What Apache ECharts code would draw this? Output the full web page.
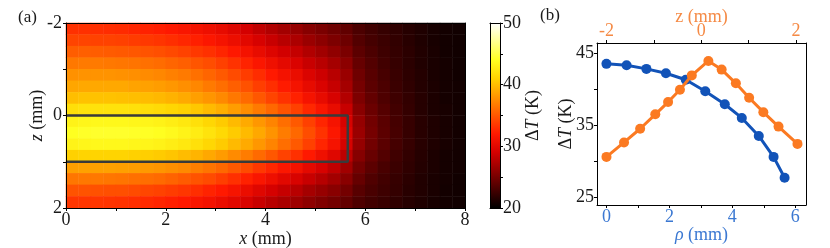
<!DOCTYPE html>
<html>
<head>
<meta charset="utf-8">
<script src="https://cdn.jsdelivr.net/npm/echarts@6/dist/echarts.min.js"></script>
<style>
html, body { margin: 0; padding: 0; background: #fff; }
#chart { width: 830px; height: 248px; }
</style>
</head>
<body>
<div id="chart"></div>
<script>
// (a) map cells: x centres (mm), z centres (mm), ΔT in K
const xCells = ['0.125','0.375','0.625','0.875','1.125','1.375','1.625','1.875','2.125','2.375','2.625','2.875',
  '3.125','3.375','3.625','3.875','4.125','4.375','4.625','4.875','5.125','5.375','5.625','5.875',
  '6.125','6.375','6.625','6.875','7.125','7.375','7.625','7.875']
const zCells = ['-1.875','-1.625','-1.375','-1.125','-0.875','-0.625','-0.375','-0.125',
  '0.125','0.375','0.625','0.875','1.125','1.375','1.625','1.875']
const heat = [
  [33.1,33.1,33.0,32.9,32.8,32.6,32.4,32.2,31.9,31.6,31.2,30.8,30.3,29.7,29.0,28.2,27.5,26.9,26.4,25.7,25.2,24.7,24.1,23.2,22.7,22.3,22.0,21.6,21.3,21.0,20.8,20.7],
  [34.1,34.1,34.0,34.0,33.9,33.7,33.5,33.3,33.0,32.7,32.3,31.8,31.3,30.7,30.0,29.2,28.5,27.8,27.3,26.5,25.9,25.3,24.6,23.5,22.9,22.5,22.1,21.7,21.3,21.0,20.8,20.7],
  [35.3,35.4,35.3,35.2,35.1,35.0,34.8,34.6,34.3,34.0,33.5,33.1,32.6,31.9,31.2,30.4,29.6,28.9,28.3,27.5,26.8,26.1,25.2,23.9,23.2,22.6,22.2,21.8,21.4,21.1,20.8,20.7],
  [36.6,36.7,36.7,36.6,36.5,36.4,36.2,36.0,35.7,35.4,34.9,34.5,33.9,33.2,32.5,31.7,30.9,30.1,29.4,28.5,27.8,27.0,25.9,24.3,23.5,22.8,22.3,21.8,21.4,21.1,20.9,20.7],
  [37.8,37.9,37.9,37.9,37.8,37.7,37.5,37.3,37.0,36.7,36.2,35.7,35.1,34.4,33.7,32.9,32.0,31.2,30.5,29.5,28.7,27.8,26.5,24.7,23.7,23.0,22.4,21.9,21.5,21.1,20.9,20.7],
  [38.8,38.9,38.9,38.9,38.9,38.7,38.6,38.4,38.1,37.7,37.3,36.7,36.1,35.4,34.7,33.8,33.0,32.1,31.3,30.3,29.4,28.4,27.0,25.0,23.9,23.2,22.5,22.0,21.5,21.2,20.9,20.8],
  [40.0,40.2,40.2,40.2,40.1,40.0,39.9,39.7,39.4,39.0,38.5,38.0,37.4,36.6,35.9,35.0,34.1,33.2,32.4,31.3,30.3,29.2,27.6,25.3,24.2,23.3,22.6,22.1,21.6,21.2,20.9,20.8],
  [41.8,42.0,42.0,42.0,42.0,41.9,41.7,41.5,41.2,40.9,40.4,39.8,39.2,38.4,37.6,36.7,35.8,34.8,33.9,32.7,31.6,30.4,28.5,25.8,24.5,23.6,22.8,22.2,21.6,21.2,21.0,20.8],
  [43.2,43.4,43.5,43.5,43.5,43.4,43.3,43.1,42.8,42.4,41.9,41.3,40.6,39.8,39.0,38.1,37.2,36.1,35.1,33.9,32.6,31.3,29.2,26.3,24.8,23.8,22.9,22.3,21.7,21.3,21.0,20.8],
  [44.0,44.2,44.3,44.3,44.3,44.2,44.1,43.9,43.6,43.2,42.7,42.1,41.4,40.6,39.8,38.9,37.9,36.8,35.8,34.5,33.2,31.8,29.6,26.5,25.0,23.9,23.0,22.3,21.7,21.3,21.0,20.8],
  [43.2,43.4,43.5,43.5,43.5,43.4,43.3,43.1,42.8,42.4,41.9,41.3,40.6,39.8,39.0,38.1,37.2,36.1,35.1,33.9,32.6,31.3,29.2,26.3,24.8,23.8,22.9,22.3,21.7,21.3,21.0,20.8],
  [40.9,41.1,41.1,41.1,41.1,40.9,40.8,40.6,40.3,39.9,39.5,38.9,38.3,37.5,36.8,35.9,35.0,34.0,33.1,32.0,30.9,29.8,28.0,25.6,24.4,23.5,22.7,22.1,21.6,21.2,20.9,20.8],
  [38.5,38.6,38.6,38.6,38.5,38.4,38.2,38.0,37.7,37.4,36.9,36.4,35.8,35.1,34.4,33.5,32.7,31.8,31.1,30.1,29.2,28.2,26.8,24.9,23.9,23.1,22.5,22.0,21.5,21.2,20.9,20.8],
  [36.5,36.6,36.6,36.5,36.4,36.2,36.1,35.9,35.6,35.2,34.8,34.4,33.8,33.1,32.4,31.6,30.8,30.0,29.3,28.5,27.7,26.9,25.8,24.3,23.4,22.8,22.3,21.8,21.4,21.1,20.9,20.7],
  [34.8,34.8,34.7,34.6,34.6,34.4,34.2,34.0,33.7,33.4,33.0,32.5,32.0,31.4,30.6,29.8,29.1,28.4,27.8,27.0,26.4,25.8,24.9,23.7,23.1,22.6,22.2,21.7,21.4,21.1,20.8,20.7],
  [33.4,33.4,33.4,33.3,33.2,33.0,32.8,32.6,32.3,32.0,31.6,31.2,30.6,30.0,29.3,28.5,27.8,27.2,26.7,26.0,25.4,24.9,24.2,23.3,22.8,22.4,22.0,21.6,21.3,21.0,20.8,20.7]
]
// heater outline (mm)
const boxX = [0, 5.65, 5.65, 0]
const boxZ = [0, 0, 1, 1]

// (b) profiles
const rho = [0, 0.64, 1.27, 1.89, 2.52, 3.14, 3.76, 4.30, 4.84, 5.31, 5.66]
const rhoT = [43.5, 43.3, 42.8, 42.2, 41.3, 39.7, 37.9, 36.0, 33.5, 30.6, 27.7]
const zPos = [-2.0, -1.63, -1.29, -0.97, -0.70, -0.45, -0.20, 0.15, 0.43, 0.73, 1.01, 1.31, 1.63, 2.03]
const zT = [30.6, 32.6, 34.5, 36.5, 38.2, 39.9, 41.9, 43.9, 42.7, 40.8, 38.8, 36.8, 34.8, 32.4]

// tick values
const xTicksA = [0, 1, 2, 3, 4, 5, 6, 7, 8]
const xLabelsA = [0, 2, 4, 6, 8]
const zTicksA = [-2, -1, 0, 1, 2]
const zLabelsA = [-2, 0, 2]
const cbTicks = [20, 25, 30, 35, 40, 45, 50]
const cbLabels = [20, 30, 40, 50]
const rhoTicks = [0, 1, 2, 3, 4, 5, 6]
const rhoLabels = [0, 2, 4, 6]
const zTicksB = [-2, -1, 0, 1, 2]
const zLabelsB = [-2, 0, 2]
const tTicksB = [25, 30, 35, 40, 45]
const tLabelsB = [25, 35, 45]

const hot = ['#000000', '#470000', '#8e0000', '#d40000', '#ff1900', '#ff5700',
  '#ff9500', '#ffd300', '#ffff21', '#ffff90', '#ffffff']

const FONT = 'Liberation Serif'
const FS = 18
const INK = '#1a1a1a'
const BLUE = '#1253b8'
const ORANGE = '#fb7a22'
const BLUE_TXT = '#3b78d2'
const ORANGE_TXT = '#f58a45'

const chart = echarts.init(document.getElementById('chart'), null, { renderer: 'canvas' })

const heatData = []
heat.forEach((row, i) => row.forEach((v, j) => heatData.push([j, i, v])))

function lbl(color, values, margin) {
  return { customValues: values, color: color, fontFamily: FONT, fontSize: FS, margin: margin }
}
function ticks(values) {
  return { show: true, customValues: values, length: 3, inside: false, lineStyle: { color: '#000', width: 1 } }
}
function nameStyle(color) {
  return {
    color: color, fontFamily: FONT, fontSize: FS,
    rich: { i: { color: color, fontFamily: FONT, fontSize: FS, fontStyle: 'italic' } }
  }
}
const frameLine = { show: true, onZero: false, lineStyle: { color: '#000', width: 1 } }
const frameOnly = {
  axisLine: frameLine, axisTick: { show: false }, axisLabel: { show: false }, splitLine: { show: false }, z: 10
}
// fixed plot boxes, no auto shrink in v6
const box = (l, t, w, h) => ({ left: l, top: t, width: w, height: h, outerBoundsMode: 'none', containLabel: false })
// axis title placed by nameGap only
const title = (text, gap, color, rotate) => ({
  name: text, nameLocation: 'middle', nameGap: gap, nameRotate: rotate,
  nameMoveOverlap: false, nameTextStyle: nameStyle(color)
})

chart.setOption({
  animation: false,
  backgroundColor: '#fff',
  graphic: [
    { type: 'text', left: 18, top: 9, style: { text: '(a)', font: '17px ' + FONT, fill: INK } },
    { type: 'text', left: 540, top: 7, style: { text: '(b)', font: '17px ' + FONT, fill: INK } }
  ],
  visualMap: {
    show: false, type: 'continuous', min: 20, max: 50, seriesIndex: 0,
    inRange: { color: hot }
  },
  grid: [
    box(66, 23, 399, 185),
    box(66, 23, 399, 185),
    Object.assign(box(490, 23, 10, 185), {
      show: true, borderWidth: 0,
      backgroundColor: {
        type: 'linear', x: 0, y: 1, x2: 0, y2: 0,
        colorStops: hot.map((c, i) => ({ offset: i / (hot.length - 1), color: c }))
      }
    }),
    box(597, 43, 209, 162)
  ],
  xAxis: [
    { type: 'category', gridIndex: 0, data: xCells, show: false },
    Object.assign({
      type: 'value', gridIndex: 1, min: 0, max: 8, position: 'bottom', z: 10,
      axisLine: frameLine, axisTick: ticks(xTicksA), axisLabel: lbl(INK, xLabelsA, 3),
      splitLine: { show: false }
    }, title('{i|x} (mm)', 22, INK)),
    Object.assign({ type: 'value', gridIndex: 1, min: 0, max: 8, position: 'top' }, frameOnly),
    Object.assign({ type: 'value', gridIndex: 2, min: 0, max: 1, position: 'bottom' }, frameOnly),
    Object.assign({ type: 'value', gridIndex: 2, min: 0, max: 1, position: 'top' }, frameOnly),
    Object.assign({
      type: 'value', gridIndex: 3, min: -0.3, max: 6.34, position: 'bottom', z: 10,
      axisLine: frameLine, axisTick: ticks(rhoTicks), axisLabel: lbl(BLUE_TXT, rhoLabels, 3),
      splitLine: { show: false }
    }, title('{i|ρ} (mm)', 21, BLUE_TXT)),
    Object.assign({
      type: 'value', gridIndex: 3, min: -2.2, max: 2.21, position: 'top', z: 10,
      axisLine: frameLine, axisTick: ticks(zTicksB), axisLabel: lbl(ORANGE_TXT, zLabelsB, 3),
      splitLine: { show: false }
    }, title('z (mm)', 17, ORANGE_TXT))
  ],
  yAxis: [
    { type: 'category', gridIndex: 0, data: zCells, inverse: true, show: false },
    Object.assign({
      type: 'value', gridIndex: 1, min: -2, max: 2, inverse: true, position: 'left', z: 10,
      axisLine: frameLine, axisTick: ticks(zTicksA), axisLabel: lbl(INK, zLabelsA, 4),
      splitLine: { show: false }
    }, title('{i|z} (mm)', 20, INK, 90)),
    Object.assign({ type: 'value', gridIndex: 1, min: -2, max: 2, position: 'right' }, frameOnly),
    Object.assign({
      type: 'value', gridIndex: 2, min: 20, max: 50, position: 'right', z: 10,
      axisLine: frameLine, axisTick: ticks(cbTicks), axisLabel: lbl(INK, cbLabels, 3),
      splitLine: { show: false }
    }, title('Δ{i|T} (K)', 24, INK, 90)),
    Object.assign({ type: 'value', gridIndex: 2, min: 20, max: 50, position: 'left' }, frameOnly),
    Object.assign({
      type: 'value', gridIndex: 3, min: 23.93, max: 46.39, position: 'left', z: 10,
      axisLine: frameLine, axisTick: ticks(tTicksB), axisLabel: lbl(INK, tLabelsB, 3),
      splitLine: { show: false }
    }, title('Δ{i|T} (K)', 22, INK, 90)),
    Object.assign({ type: 'value', gridIndex: 3, min: 23.93, max: 46.39, position: 'right' }, frameOnly)
  ],
  series: [
    {
      type: 'heatmap', xAxisIndex: 0, yAxisIndex: 0, data: heatData,
      itemStyle: { borderWidth: 0 }, emphasis: { disabled: true }
    },
    {
      type: 'line', xAxisIndex: 1, yAxisIndex: 1, z: 5,
      data: boxX.map((x, i) => [x, boxZ[i]]),
      symbol: 'none', lineStyle: { color: '#3a3a3a', width: 2.5 }
    },
    {
      type: 'line', xAxisIndex: 5, yAxisIndex: 5, z: 5,
      data: rho.map((r, i) => [r, rhoT[i]]),
      symbol: 'circle', symbolSize: 10,
      itemStyle: { color: BLUE }, lineStyle: { color: BLUE, width: 3 }
    },
    {
      type: 'line', xAxisIndex: 6, yAxisIndex: 5, z: 6,
      data: zPos.map((z, i) => [z, zT[i]]),
      symbol: 'circle', symbolSize: 10,
      itemStyle: { color: ORANGE }, lineStyle: { color: ORANGE, width: 3 }
    }
  ]
})

window.addEventListener('resize', () => chart.resize())
</script>
</body>
</html>
